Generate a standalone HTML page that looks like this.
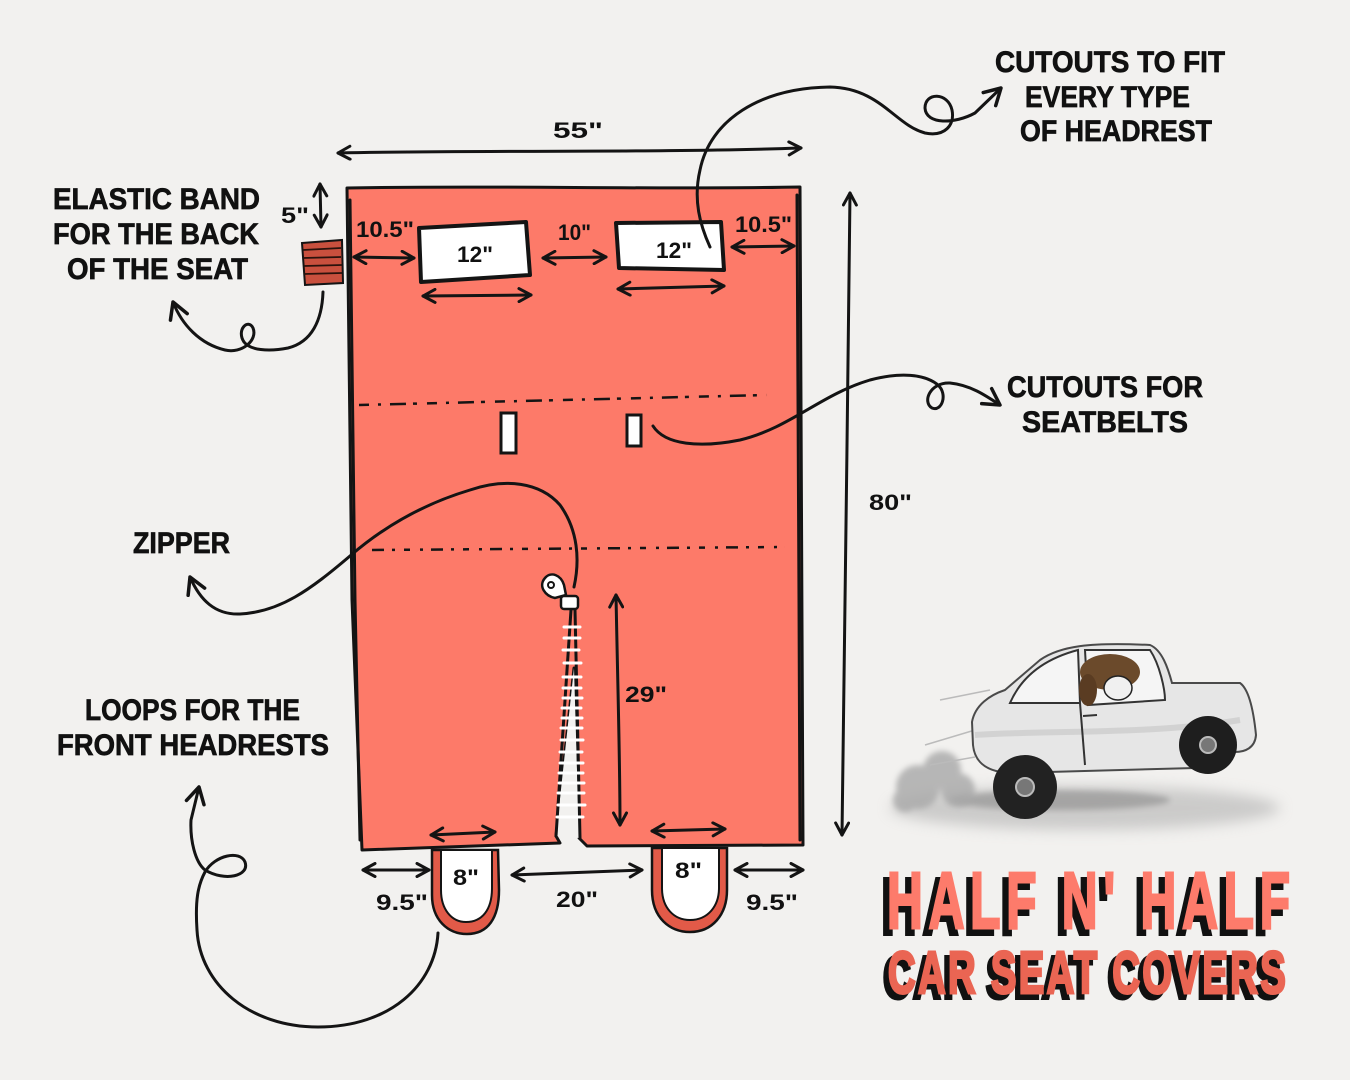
<!DOCTYPE html>
<html><head><meta charset="utf-8"><style>
html,body{margin:0;padding:0;background:#f2f1ef;}
svg{display:block;}
.h{font-family:"Liberation Sans",sans-serif;font-weight:bold;fill:#111;}
.lb{stroke:#111;stroke-width:0.7;}
.ln{fill:none;stroke:#141414;stroke-width:3;stroke-linecap:round;stroke-linejoin:round;}
</style></head><body>
<svg width="1350" height="1080" viewBox="0 0 1350 1080" xmlns="http://www.w3.org/2000/svg">
<defs>
<marker id="ah" viewBox="0 0 16 16" refX="14" refY="8" markerWidth="16" markerHeight="16" markerUnits="userSpaceOnUse" orient="auto-start-reverse">
<path d="M2,1.5 L14,8 L2,14.5" fill="none" stroke="#141414" stroke-width="3" stroke-linecap="round" stroke-linejoin="round"/>
</marker>
<marker id="ah2" viewBox="0 0 22 22" refX="19" refY="11" markerWidth="22" markerHeight="22" markerUnits="userSpaceOnUse" orient="auto">
<path d="M3,2 L19,11 L3,20" fill="none" stroke="#141414" stroke-width="3.5" stroke-linecap="round" stroke-linejoin="round"/>
</marker>
<filter id="bl" x="-30%" y="-50%" width="160%" height="200%"><feGaussianBlur stdDeviation="7"/></filter>
<filter id="bl2" x="-30%" y="-30%" width="160%" height="160%"><feGaussianBlur stdDeviation="3"/></filter>
</defs>
<rect width="1350" height="1080" fill="#f2f1ef"/>

<!-- main cover -->
<path d="M347,188 C500,185 650,190 800,187 L803,845 L587,846 L579,838 L574,668 L556,836 L560,843 L362,850 L352,600 Z" fill="#fd7a69" stroke="#141414" stroke-width="3" stroke-linejoin="round"/>
<path d="M574,668 L579,838 L556,836 Z" fill="#f2f1ef"/>
<path class="ln" d="M350,200 L355,600 L360,840" stroke-width="1.5"/>
<path class="ln" d="M797,195 L799,600 L800,840" stroke-width="1.5"/>

<!-- dashed lines -->
<path d="M359,405 L767,395" fill="none" stroke="#141414" stroke-width="2.5" stroke-dasharray="10 9 3 9 16 7 4 10"/>
<path d="M372,550 L785,547" fill="none" stroke="#141414" stroke-width="2.5" stroke-dasharray="12 8 3 9 6 10 3 8"/>

<!-- headrest cutouts -->
<path d="M419,228 L526,222 L530,275 L421,282 Z" fill="#fff" stroke="#141414" stroke-width="4" stroke-linejoin="round"/>
<path d="M616,223 L721,222 L724,270 L619,268 Z" fill="#fff" stroke="#141414" stroke-width="4" stroke-linejoin="round"/>
<!-- seatbelt slots -->
<rect x="501" y="413" width="15" height="40" fill="#fff" stroke="#141414" stroke-width="3"/>
<rect x="627" y="415" width="14" height="31" fill="#fff" stroke="#141414" stroke-width="3"/>

<!-- elastic band -->
<path d="M302,243 L342,240 L343,283 L305,285 Z" fill="#c9503e" stroke="#141414" stroke-width="2"/>
<g stroke="#2a120c" stroke-width="1.8"><line x1="303" y1="250" x2="341" y2="248"/><line x1="303" y1="258" x2="341" y2="257"/><line x1="304" y1="266" x2="342" y2="265"/><line x1="304" y1="274" x2="342" y2="273"/></g>

<!-- zipper -->
<path class="ln" d="M571,610 L556,836" stroke-width="2.5"/>
<path class="ln" d="M575,610 L580,838" stroke-width="2.5"/>
<g stroke="#fff" stroke-width="3" stroke-linecap="round">
<line x1="564" y1="627" x2="580" y2="627"/><line x1="564" y1="638" x2="580" y2="638"/><line x1="563" y1="650" x2="579" y2="650"/><line x1="564" y1="663" x2="581" y2="663"/><line x1="563" y1="677" x2="581" y2="677"/><line x1="563" y1="688" x2="581" y2="688"/><line x1="563" y1="698" x2="582" y2="698"/><line x1="562" y1="708" x2="581" y2="708"/><line x1="562" y1="718" x2="582" y2="718"/><line x1="561" y1="728" x2="582" y2="728"/><line x1="561" y1="740" x2="583" y2="740"/><line x1="560" y1="752" x2="582" y2="752"/><line x1="560" y1="763" x2="583" y2="763"/><line x1="559" y1="773" x2="583" y2="773"/><line x1="559" y1="783" x2="584" y2="783"/><line x1="558" y1="793" x2="584" y2="793"/><line x1="558" y1="805" x2="585" y2="805"/><line x1="557" y1="817" x2="583" y2="817"/>
</g>
<path d="M545,578 C551,571 561,575 564,585 L566,595 L555,598 C545,596 538,586 545,578 Z" fill="#fff" stroke="#141414" stroke-width="2.5"/>
<circle cx="551" cy="585" r="3" fill="none" stroke="#141414" stroke-width="2"/>
<rect x="561" y="596" width="17" height="13" rx="3" fill="#fff" stroke="#141414" stroke-width="2.5"/>

<!-- loops -->
<path d="M432,850 L432,895 C432,920 448,934 467,934 C488,934 499,918 499,890 L498,850 Z" fill="#e25a48" stroke="#141414" stroke-width="2.5"/>
<path d="M441,850 L441,890 C441,910 452,922 466,922 C482,922 492,910 492,888 L492,850 Z" fill="#fff" stroke="#141414" stroke-width="2"/>
<path d="M652,848 L652,890 C652,918 670,932 690,932 C712,932 727,915 727,890 L727,848 Z" fill="#e25a48" stroke="#141414" stroke-width="2.5"/>
<path d="M662,848 L662,888 C662,908 674,920 690,920 C708,920 719,906 719,888 L719,848 Z" fill="#fff" stroke="#141414" stroke-width="2"/>

<!-- dimension arrows -->
<g class="ln" marker-start="url(#ah)" marker-end="url(#ah)" stroke-width="3">
<path d="M338,153 C480,150 650,153 801,148" />
<path d="M320,184 L321,227" />
<path d="M354,257 L414,258" />
<path d="M543,258 L606,257" />
<path d="M732,247 L794,246" />
<path d="M423,296 L531,295" />
<path d="M618,289 L724,286" />
<path d="M850,193 C848,400 844,650 842,835" />
<path d="M616,595 C618,700 620,760 620,825" />
<path d="M431,835 L495,832" />
<path d="M652,831 L725,829" />
<path d="M363,870 L429,870" />
<path d="M512,875 L642,870" />
<path d="M735,870 L803,870" />
</g>

<!-- labels -->
<g class="h lb" font-size="30">
<text x="53" y="209" textLength="207" lengthAdjust="spacingAndGlyphs">ELASTIC BAND</text>
<text x="53" y="244" textLength="206" lengthAdjust="spacingAndGlyphs">FOR THE BACK</text>
<text x="67" y="279" textLength="181" lengthAdjust="spacingAndGlyphs">OF THE SEAT</text>
<text x="995" y="72" textLength="230" lengthAdjust="spacingAndGlyphs">CUTOUTS TO FIT</text>
<text x="1025" y="107" textLength="165" lengthAdjust="spacingAndGlyphs">EVERY TYPE</text>
<text x="1020" y="141" textLength="192" lengthAdjust="spacingAndGlyphs">OF HEADREST</text>
<text x="1007" y="397" textLength="196" lengthAdjust="spacingAndGlyphs">CUTOUTS FOR</text>
<text x="1022" y="432" textLength="166" lengthAdjust="spacingAndGlyphs">SEATBELTS</text>
<text x="133" y="553" textLength="97" lengthAdjust="spacingAndGlyphs">ZIPPER</text>
<text x="85" y="720" textLength="215" lengthAdjust="spacingAndGlyphs">LOOPS FOR THE</text>
<text x="57" y="755" textLength="272" lengthAdjust="spacingAndGlyphs">FRONT HEADRESTS</text>
</g>

<!-- dimension labels -->
<g class="h" font-size="22">
<text x="553" y="138" textLength="50" lengthAdjust="spacingAndGlyphs">55"</text>
<text x="281" y="223" textLength="28" lengthAdjust="spacingAndGlyphs">5"</text>
<text x="356" y="237" textLength="58" lengthAdjust="spacingAndGlyphs">10.5"</text>
<text x="457" y="262" textLength="36" lengthAdjust="spacingAndGlyphs">12"</text>
<text x="558" y="240" textLength="33" lengthAdjust="spacingAndGlyphs">10"</text>
<text x="656" y="258" textLength="36" lengthAdjust="spacingAndGlyphs">12"</text>
<text x="735" y="232" textLength="57" lengthAdjust="spacingAndGlyphs">10.5"</text>
<text x="869" y="510" textLength="43" lengthAdjust="spacingAndGlyphs">80"</text>
<text x="625" y="702" textLength="42" lengthAdjust="spacingAndGlyphs">29"</text>
<text x="453" y="885" textLength="26" lengthAdjust="spacingAndGlyphs">8"</text>
<text x="675" y="878" textLength="27" lengthAdjust="spacingAndGlyphs">8"</text>
<text x="376" y="910" textLength="52" lengthAdjust="spacingAndGlyphs">9.5"</text>
<text x="556" y="907" textLength="42" lengthAdjust="spacingAndGlyphs">20"</text>
<text x="746" y="910" textLength="52" lengthAdjust="spacingAndGlyphs">9.5"</text>
</g>

<!-- curly label arrows -->
<path class="ln" marker-end="url(#ah2)" d="M710,247 C700,225 693,200 700,170 C710,120 760,88 830,87 C880,88 895,125 925,133 C945,137 955,125 952,110 C948,92 925,92 925,108 C926,125 955,124 975,113 L1001,88"/>
<path class="ln" marker-end="url(#ah2)" d="M653,426 C665,445 700,448 740,440 C790,428 820,395 870,380 C900,372 925,374 938,385 C948,394 942,412 932,408 C922,402 930,382 950,383 C970,385 985,395 1000,405"/>
<path class="ln" marker-end="url(#ah2)" d="M574,587 C580,560 578,530 560,505 C540,482 505,478 470,490 C420,505 380,530 350,556 C310,590 280,612 240,614 C215,615 200,600 190,577"/>
<path class="ln" marker-end="url(#ah2)" d="M323,292 C322,320 312,342 288,348 C268,352 250,350 244,342 C236,330 248,318 253,328 C258,340 242,354 225,350 C200,344 182,325 173,302"/>
<path class="ln" marker-end="url(#ah2)" d="M438,933 C435,985 390,1027 318,1027 C250,1027 200,985 197,930 C195,900 198,885 205,872 C215,855 240,850 245,862 C250,876 225,882 205,870 C195,862 190,840 191,820 L199,787"/>

<!-- car illustration -->
<ellipse cx="1085" cy="808" rx="195" ry="22" fill="#a5a5a5" opacity="0.5" filter="url(#bl)"/>
<ellipse cx="1060" cy="800" rx="110" ry="10" fill="#777" opacity="0.45" filter="url(#bl2)"/>
<g filter="url(#bl2)" fill="#a8a8a8" opacity="0.8">
<circle cx="918" cy="787" r="22"/><circle cx="942" cy="770" r="19"/><circle cx="958" cy="790" r="17"/><circle cx="905" cy="800" r="12"/>
</g>
<g stroke="#bbb" stroke-width="1.5" fill="none"><path d="M925,745 L975,730"/><path d="M940,700 L990,690"/><path d="M930,765 L975,757"/></g>
<path d="M972,722 C975,705 990,695 1005,690 L1040,660 C1060,646 1090,642 1150,645 C1162,650 1168,668 1172,683 L1240,683 C1250,690 1254,715 1256,735 C1255,748 1245,752 1235,752 L1195,768 L1010,773 C990,772 975,765 973,745 Z" fill="#e6e6e6" stroke="#4a4a4a" stroke-width="2"/>
<path d="M975,735 C1050,730 1150,735 1240,720" fill="none" stroke="#c4c4c4" stroke-width="6" opacity="0.6"/>
<path d="M1010,703 C1020,680 1040,660 1078,650 L1080,703 Z" fill="#f5f5f5" stroke="#333" stroke-width="2"/>
<path d="M1085,650 L1150,650 C1160,665 1165,690 1165,700 L1088,705 Z" fill="#f5f5f5" stroke="#333" stroke-width="2"/>
<ellipse cx="1110" cy="672" rx="30" ry="18" fill="#6b4a2b"/>
<ellipse cx="1088" cy="690" rx="9" ry="16" fill="#5a3c22"/>
<ellipse cx="1118" cy="688" rx="14" ry="12" fill="#f0f0f0" stroke="#222" stroke-width="1.5"/>
<path d="M1080,703 L1085,765" stroke="#333" stroke-width="2" fill="none"/>
<path d="M1083,716 L1097,715" stroke="#333" stroke-width="2"/>
<circle cx="1025" cy="787" r="32" fill="#222"/>
<circle cx="1025" cy="787" r="9" fill="#777" stroke="#bbb" stroke-width="2"/>
<circle cx="1208" cy="745" r="29" fill="#1e1e1e"/>
<circle cx="1208" cy="745" r="8" fill="#777" stroke="#bbb" stroke-width="2"/>

<!-- title -->
<g font-family="'Liberation Sans',sans-serif" font-weight="bold">
<g transform="translate(881,934) scale(0.62,1)"><text x="0" y="0" font-size="80" textLength="650" lengthAdjust="spacing" fill="#111" stroke="#111" stroke-width="4">HALF N' HALF</text></g>
<g transform="translate(887,928) scale(0.62,1)"><text x="0" y="0" font-size="80" textLength="650" lengthAdjust="spacing" fill="#fd7b6b" stroke="#fd7b6b" stroke-width="3">HALF N' HALF</text></g>
<g transform="translate(883,998) scale(0.65,1)"><text x="0" y="0" font-size="59" textLength="612" lengthAdjust="spacing" fill="#111" stroke="#111" stroke-width="4">CAR SEAT COVERS</text></g>
<g transform="translate(888,993) scale(0.65,1)"><text x="0" y="0" font-size="59" textLength="612" lengthAdjust="spacing" fill="#ea6553" stroke="#ea6553" stroke-width="3">CAR SEAT COVERS</text></g>
</g>
</svg>
</body></html>
